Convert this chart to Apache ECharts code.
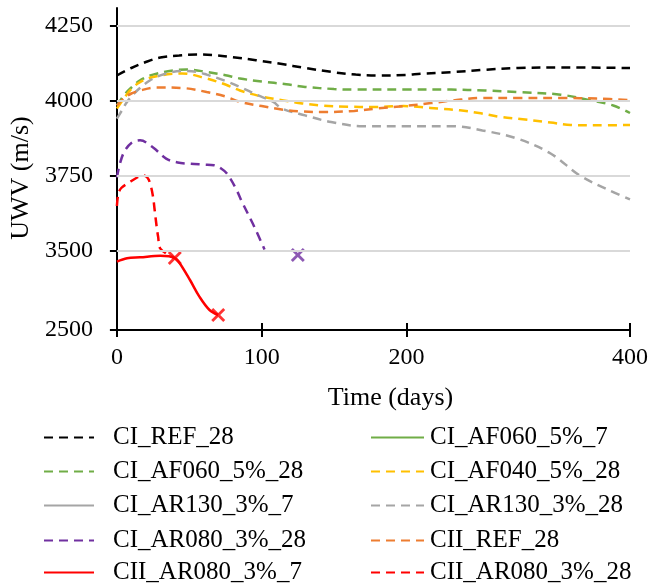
<!DOCTYPE html>
<html>
<head>
<meta charset="utf-8">
<script src="https://cdn.jsdelivr.net/npm/echarts@6/dist/echarts.min.js"></script>
<style>html,body{margin:0;padding:0;background:#fff;}#c{width:651px;height:583px;}</style>
</head>
<body>
<div id="c"></div>
<script>
// ---- data (day, UWV m/s) ----
const xTickLabels = [0, 100, 200, 400];
const yTickLabels = [2500, 3500, 3750, 4000, 4250];
const yGridValues = [3500, 3750, 4000, 4250];

const CI_REF_28 = [[0,4085],[10,4110],[20,4130],[30,4145],[43,4152],[55,4155],[66,4153],[80,4146],[96,4136],[113,4124],[130,4110],[148,4097],[165,4088],[180,4085],[200,4087],[213,4091],[240,4096],[270,4104],[300,4110],[340,4112],[400,4110]];
const CI_AF060_5_7 = [];
const CI_AF060_5_28 = [[0,3985],[5,4020],[10,4045],[16,4069],[25,4088],[39,4102],[48,4105],[62,4097],[75,4086],[85,4075],[100,4065],[117,4056],[130,4047],[150,4040],[164,4038],[200,4038],[240,4038],[270,4035],[300,4030],[338,4021],[365,4002],[385,3985],[400,3960]];
const CI_AF040_5_28 = [[0,3975],[5,4010],[10,4040],[16,4063],[25,4080],[39,4091],[45,4092],[62,4075],[75,4055],[85,4035],[100,4015],[115,4002],[128,3992],[141,3985],[160,3981],[176,3980],[198,3983],[215,3979],[228,3975],[248,3969],[265,3960],[284,3947],[302,3940],[329,3928],[347,3920],[370,3919],[400,3920]];
const CI_AR130_3_7 = [];
const CI_AR130_3_28 = [[0,3941],[3,3965],[7,3997],[14,4035],[23,4069],[33,4090],[45,4100],[55,4097],[62,4088],[75,4067],[85,4047],[97,4020],[108,3997],[114,3975],[130,3952],[148,3930],[170,3916],[200,3916],[242,3916],[268,3902],[299,3875],[329,3825],[355,3752],[380,3705],[400,3672]];
const CI_AR080_3_28 = [[0,3745],[2,3790],[5,3830],[10,3860],[16,3869],[25,3845],[34,3808],[42,3795],[50,3791],[60,3788],[67,3786],[72,3775],[76,3758],[82,3710],[87,3658],[95,3580],[102,3505]];
const CII_REF_28 = [[0,3985],[5,4010],[10,4025],[16,4035],[27,4045],[46,4043],[62,4030],[75,4015],[85,3997],[100,3983],[115,3971],[128,3965],[141,3963],[164,3967],[180,3975],[198,3983],[222,3993],[242,4002],[268,4010],[300,4010],[340,4010],[370,4008],[400,4003]];
const CII_AR080_3_7 = [[0,3365],[7,3408],[16,3420],[30,3440],[36,3435],[40,3410],[42.5,3370],[50.5,3133],[57,2922],[64,2753],[70,2690]];
const CII_AR080_3_28 = [[0,3650],[1,3690],[3,3710],[9,3730],[14,3745],[18,3752],[21,3745],[23,3725],[25,3680],[26,3640],[27.5,3580],[28.5,3547],[30,3508],[40,3411]];
// end-of-test markers (x)
const endPurple = [[125,3449]];
const endRed28 = [[40,3411]];
const endRed7 = [[70,2690]];

// legend layout: two columns of five
const legendLeftCol = ['CI_REF_28', 'CI_AF060_5%_28', 'CI_AR130_3%_7', 'CI_AR080_3%_28', 'CII_AR080_3%_7'];
const legendRightCol = ['CI_AF060_5%_7', 'CI_AF040_5%_28', 'CI_AR130_3%_28', 'CII_REF_28', 'CII_AR080_3%_28'];

// ---- broken-axis mappings ----
const X_BREAK = 200, X_K = 0.7725;
const Y_BREAK = 3500, Y_K = 0.2633;
const fx = x => x <= X_BREAK ? x : X_BREAK + (x - X_BREAK) * X_K;
const fy = y => y >= Y_BREAK ? y : Y_BREAK - (Y_BREAK - y) * Y_K;
const map = arr => arr.map(p => [fx(p[0]), fy(p[1])]);
const xMin = fx(0), xMax = fx(400);
const yMin = fy(2500), yMax = 4310;
const xTickPos = xTickLabels.map(fx);
const yTickPos = yTickLabels.map(fy);
const xLab = v => { let i = xTickPos.findIndex(t => Math.abs(t - v) < 0.01); return i >= 0 ? String(xTickLabels[i]) : ''; };
const yLab = v => { let i = yTickPos.findIndex(t => Math.abs(t - v) < 0.01); return i >= 0 ? String(yTickLabels[i]) : ''; };

const FONT = 'Liberation Serif';
const DASH = [9, 6];
function ln(name, data, color, dashed) {
  return { name, type: 'line', data: map(data), smooth: 0.35, symbol: 'none', z: 3,
    lineStyle: { color, width: 2.5, type: dashed ? DASH : 'solid' }, itemStyle: { color } };
}
const XPATH = 'path://M2,0 L7,5 L12,0 L14,2 L9,7 L14,12 L12,14 L7,9 L2,14 L0,12 L5,7 L0,2 Z';
function cross(data, color) {
  return { type: 'scatter', data: map(data), symbol: XPATH, symbolSize: 14, itemStyle: { color }, z: 4, silent: true };
}

const series = [
  { type: 'line', data: [], z: 1, silent: true,
    markLine: { silent: true, symbol: ['none','none'], label: { show: false }, animation: false,
      lineStyle: { color: '#D9D9D9', width: 2, type: 'solid' },
      data: yGridValues.map(v => ({ yAxis: fy(v) })) } },
  ln('CI_REF_28', CI_REF_28, '#000000', true),
  ln('CI_AF060_5%_7', CI_AF060_5_7, '#70AD47', false),
  ln('CI_AF060_5%_28', CI_AF060_5_28, '#70AD47', true),
  ln('CI_AF040_5%_28', CI_AF040_5_28, '#FFC000', true),
  ln('CI_AR130_3%_7', CI_AR130_3_7, '#A5A5A5', false),
  ln('CI_AR130_3%_28', CI_AR130_3_28, '#A5A5A5', true),
  ln('CI_AR080_3%_28', CI_AR080_3_28, '#7030A0', true),
  ln('CII_REF_28', CII_REF_28, '#ED7D31', true),
  ln('CII_AR080_3%_7', CII_AR080_3_7, '#FF0000', false),
  ln('CII_AR080_3%_28', CII_AR080_3_28, '#FF0000', true),
  cross(endPurple, '#7030A0'),
  cross(endRed28, '#FF0000'),
  cross(endRed7, '#FF0000')
];

const rowCenters = [435, 469, 503, 538, 570];
function legendItem(name, col, row) {
  return {
    orient: 'horizontal', left: col === 0 ? 43 : 370, top: rowCenters[row] - 10,
    padding: 0, itemWidth: col === 0 ? 50 : 53, itemHeight: 14, selectedMode: false,
    itemStyle: { opacity: 0, color: 'transparent', borderWidth: 0 },
    textStyle: { fontFamily: FONT, fontSize: 25, color: '#000', lineHeight: 20, padding: [0, 0, 0, col === 0 ? 14 : 1] },
    data: [name]
  };
}
const legends = legendLeftCol.map((n, i) => legendItem(n, 0, i)).concat(legendRightCol.map((n, i) => legendItem(n, 1, i)));

const option = {
  animation: false,
  backgroundColor: '#fff',
  grid: { left: 115, right: 21, top: 8, bottom: 253 },
  xAxis: [
    { type: 'value', min: xMin, max: xMax,
      name: 'Time (days)', nameLocation: 'middle', nameGap: 55,
      nameTextStyle: { fontFamily: FONT, fontSize: 26, color: '#000', padding: [0, 0, 0, 34] },
      axisLine: { lineStyle: { color: '#000', width: 2 } },
      axisTick: { show: true, inside: false, length: 7, lineStyle: { color: '#000', width: 2 }, customValues: xTickPos },
      axisLabel: { customValues: xTickPos, formatter: xLab, fontFamily: FONT, fontSize: 24, color: '#000', margin: 16 },
      splitLine: { show: false } },
    { type: 'value', min: xMin, max: xMax, position: 'bottom',
      axisLine: { show: false },
      axisTick: { show: true, inside: true, length: 7, lineStyle: { color: '#000', width: 2 }, customValues: xTickPos },
      axisLabel: { show: false }, splitLine: { show: false } }
  ],
  yAxis: [
    { type: 'value', min: yMin, max: yMax,
      name: 'UWV (m/s)', nameLocation: 'middle', nameGap: 61, nameRotate: 90,
      nameTextStyle: { fontFamily: FONT, fontSize: 26, color: '#000', padding: [0, 18, 0, 0] },
      axisLine: { show: true, lineStyle: { color: '#000', width: 2 } },
      axisTick: { show: true, inside: false, length: 7, lineStyle: { color: '#000', width: 2 }, customValues: yTickPos },
      axisLabel: { customValues: yTickPos, formatter: yLab, fontFamily: FONT, fontSize: 24, color: '#000', margin: 24 },
      splitLine: { show: false } },
    { type: 'value', min: yMin, max: yMax, position: 'left',
      axisLine: { show: false },
      axisTick: { show: true, inside: true, length: 7, lineStyle: { color: '#000', width: 2 }, customValues: yTickPos },
      axisLabel: { show: false }, splitLine: { show: false } }
  ],
  legend: legends,
  series
};
const chart = echarts.init(document.getElementById('c'), null, { renderer: 'canvas' });
chart.setOption(option);
</script>
</body>
</html>
